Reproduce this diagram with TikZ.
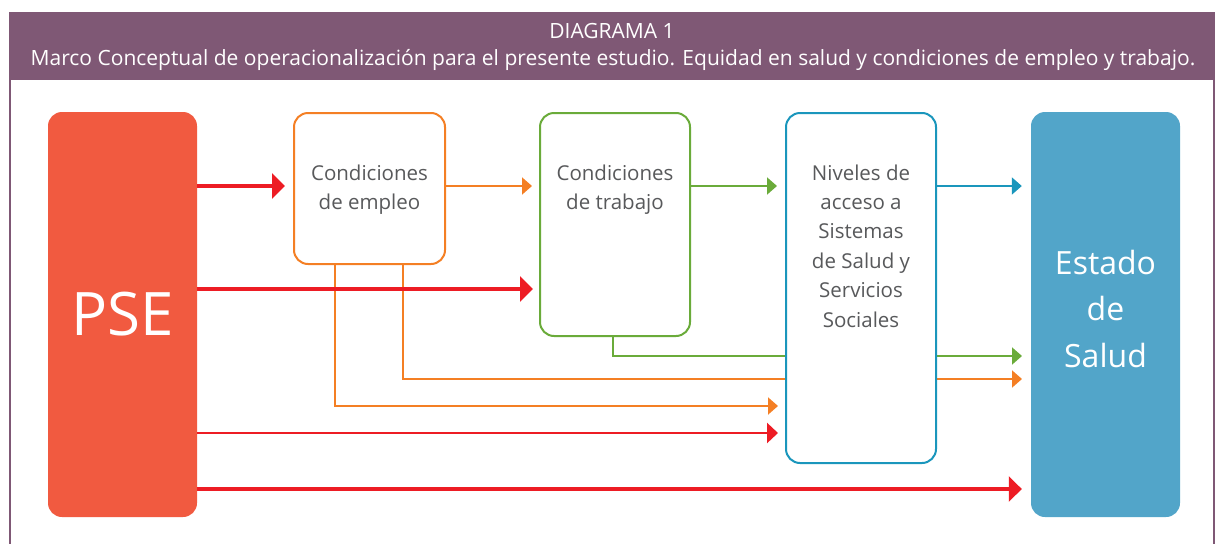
\documentclass[tikz,border=0pt]{standalone}
\usepackage{fontspec}
\setmainfont{Open Sans}
\usetikzlibrary{arrows.meta}
\definecolor{hdr}{HTML}{7F5875}
\definecolor{pser}{HTML}{F15A40}
\definecolor{salud}{HTML}{52A5C9}
\definecolor{org}{HTML}{F47F24}
\definecolor{grn}{HTML}{6AAB3A}
\definecolor{blu}{HTML}{1A96BC}
\definecolor{redl}{HTML}{ED1C24}
\definecolor{txt}{HTML}{58595B}
\tikzset{
  filledbox/.style={rounded corners=14pt, inner sep=0pt, text=white, align=center},
  linebox/.style={rounded corners=14pt, draw, line width=2pt, fill=white, inner sep=0pt},
  boxtext/.style={text=txt, font=\fontsize{20.5}{29.4}\selectfont, align=center, anchor=north},
  redthick/.style={draw=redl, line width=3.6pt, -{Triangle[length=13pt,width=25pt]}},
  redthin/.style={draw=redl, line width=2.6pt, -{Triangle[length=11pt,width=20pt]}},
  thinarr/.style={line width=2pt, -{Triangle[length=10pt,width=17pt]}},
}
\begin{document}
\begin{tikzpicture}[x=1pt,y=-1pt]
\useasboundingbox (0,0) rectangle (1224,544);
% frame
\fill[hdr] (10,12) rectangle (1214,80);
\draw[hdr, line width=1.2pt] (10,12) -- (10,544);
\draw[hdr, line width=1.2pt] (1214,12) -- (1214,544);
\node[text=white, font=\fontsize{21}{24}\selectfont] (t1) at (612,31) {DIAGRAMA 1};
\node[text=white, font=\fontsize{21}{24}\selectfont] (t2) at (613,60) {Marco Conceptual de operacionalización para el presente estudio. Equidad en salud y condiciones de empleo y trabajo.};
% boxes
\node[filledbox, fill=pser, minimum width=149pt, minimum height=405pt, font=\fontsize{60}{60}\selectfont] (pse) at (122.5,314.5) {PSE};
\node[filledbox, fill=salud, minimum width=149pt, minimum height=405pt] (est) at (1105.5,314.5) {};
\node[text=white, font=\fontsize{32}{46.5}\selectfont, align=center] (estt) at ([yshift=6pt]est.center) {Estado\\de\\Salud};
% connectors behind boxes
\draw[org, thinarr] (403,263) |- (1022,379) coordinate (e7);
\draw[org, thinarr] (335,263) |- (778,406) coordinate (e8);
\draw[grn, thinarr] (613,335) |- (1022,356) coordinate (e6);
\node[linebox, draw=org, minimum width=151pt, minimum height=151pt, anchor=north west] (emp) at (293,112) {};
\node[linebox, draw=grn, minimum width=150pt, minimum height=223pt, anchor=north west] (trab) at (539,112) {};
\node[linebox, draw=blu, minimum width=150pt, minimum height=350pt, anchor=north west] (niv) at (785,112) {};
\node[boxtext] (empt) at (emp.north |- 0,161) {Condiciones\\de empleo};
\node[boxtext] (trabt) at (trab.north |- 0,161) {Condiciones\\de trabajo};
\node[boxtext] (nivt) at (niv.north |- 0,161) {Niveles de\\acceso a\\Sistemas\\de Salud y\\Servicios\\Sociales};
% straight connectors
\draw[redthick] (pse.east |- 0,186) -- ([xshift=-8pt]emp.west |- 0,186);
\draw[org, thinarr] (emp.east |- 0,186) -- ([xshift=-7pt]trab.west |- 0,186);
\draw[redthick] (pse.east |- 0,289) -- ([xshift=-6pt]trab.west |- 0,289);
\draw[grn, thinarr] (trab.east |- 0,186) -- ([xshift=-8pt]niv.west |- 0,186);
\draw[blu, thinarr] (niv.east |- 0,186) -- ([xshift=-9pt]est.west |- 0,186);
\draw[redthin] (pse.east |- 0,433) -- ([xshift=-7pt]niv.west |- 0,433);
\draw[redthick] (pse.east |- 0,489) -- ([xshift=-9pt]est.west |- 0,489);
\end{tikzpicture}
\end{document}
